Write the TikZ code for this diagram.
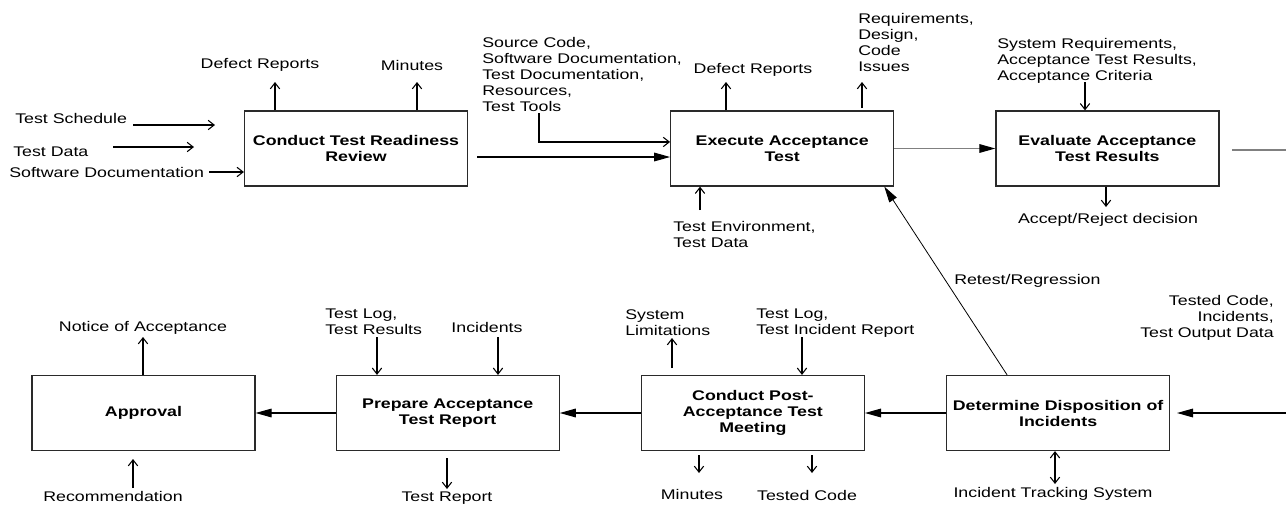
\documentclass[tikz,border=0pt]{standalone}
\usepackage{fontspec}
\setmainfont{Liberation Sans}[FakeStretch=1.27]
\usepackage{xcolor}
\usepackage{tikz}
\usetikzlibrary{arrows.meta,positioning}
\definecolor{Ink}{HTML}{000000}
\definecolor{Edge}{HTML}{2A2A2A}
\definecolor{Grey}{HTML}{808080}
\tikzset{
  proc/.style={draw=Edge,line width=0.9pt,minimum width=167.25pt,minimum height=56.25pt,inner sep=0pt,align=center,font=\fontsize{10.5}{12}\selectfont\bfseries},
  lbl/.style={inner sep=0pt,align=left,font=\fontsize{10.5}{12}\selectfont},
  flow/.style={-{Triangle[length=12pt,width=6.5pt,color=Ink]},line width=0.8pt,color=Ink},
  io/.style={-{Straight Barb[length=4.5pt,width=7pt]},line width=0.8pt,color=Ink},
  iotwo/.style={{Straight Barb[length=4.5pt,width=7pt]}-{Straight Barb[length=4.5pt,width=7pt]},line width=0.8pt,color=Ink}
}

\begin{document}
\begin{tikzpicture}[x=0.75pt,y=-0.75pt]
  \useasboundingbox (0,0) rectangle (1286,504);
  \node[proc] (ctrr) at (356,148.5) {Conduct Test Readiness\\Review};
  \node[proc,right=151.5pt of ctrr] (eat) {Execute Acceptance\\Test};
  \node[proc,right=75.75pt of eat] (eatr) {Evaluate Acceptance\\Test Results};
  \node[proc] (appr) at (143.5,413) {Approval};
  \node[proc,right=60pt of appr] (patr) {Prepare Acceptance\\Test Report};
  \node[proc,right=60.75pt of patr] (cpatm) {Conduct Post-\\Acceptance Test\\Meeting};
  \node[proc,right=60.75pt of cpatm] (ddi) {Determine Disposition of\\Incidents};

  \node[lbl,anchor=west] (tsched) at (15,118) {Test Schedule};
  \node[lbl,anchor=west] (tdata) at (13,152) {Test Data};
  \node[lbl,anchor=west] (swdoc) at (9,172) {Software Documentation};
  \node[lbl] (defA) at (260,65) {Defect Reports};
  \node[lbl] (minA) at (412,65) {Minutes};
  \node[lbl,anchor=north west] (srcs) at (482,37) {Source Code,\\Software Documentation,\\Test Documentation,\\Resources,\\Test Tools};
  \node[lbl] (defB) at (753,70) {Defect Reports};
  \node[lbl,anchor=north west] (reqs) at (858,13) {Requirements,\\Design,\\Code\\Issues};
  \node[lbl,anchor=north west] (tenv) at (673,221) {Test Environment,\\Test Data};
  \node[lbl,anchor=north west] (sysreq) at (997,38) {System Requirements,\\Acceptance Test Results,\\Acceptance Criteria};
  \node[lbl] (decis) at (1108,220) {Accept/Reject decision};
  \node[lbl,anchor=west] (retest) at (954,281) {Retest/Regression};

  \node[lbl] (notice) at (143,328) {Notice of Acceptance};
  \node[lbl] (recom) at (113,496) {Recommendation};
  \node[lbl,anchor=north west] (tlogA) at (325,309) {Test Log,\\Test Results};
  \node[lbl] (incA) at (487,327) {Incidents};
  \node[lbl] (trep) at (447,498) {Test Report};
  \node[lbl,anchor=north west] (syslim) at (625,309) {System\\Limitations};
  \node[lbl,anchor=north west] (tlogB) at (756,309) {Test Log,\\Test Incident Report};
  \node[lbl] (minB) at (692,494) {Minutes};
  \node[lbl] (tcode) at (807,495) {Tested Code};
  \node[lbl] (itsys) at (1053,494) {Incident Tracking System};
  \node[lbl,anchor=north east,align=right] (tout) at (1274,295) {Tested Code,\\Incidents,\\Test Output Data};

  \coordinate (tsA) at (133,125); \coordinate (tsB) at (215,125);
  \coordinate (tdA) at (113,147); \coordinate (tdB) at (194,147);
  \coordinate (dr1) at (275,82);  \coordinate (mn1) at (417,82);
  \coordinate (rvw) at (477,157); \coordinate (src) at (539,113);
  \coordinate (dr2) at (726,82);
  \coordinate (rq0) at (862,108); \coordinate (rq1) at (862,82);
  \coordinate (te1) at (700,210);
  \coordinate (sr1) at (1085,82); \coordinate (ar1) at (1106,207);
  \coordinate (exitA) at (1232,150); \coordinate (exitB) at (1286,150);
  \coordinate (na1) at (143,337);
  \coordinate (rc0) at (133,488); \coordinate (rc1) at (133,459);
  \coordinate (tl1) at (377,337); \coordinate (in1) at (498,337);
  \coordinate (tr0) at (447,458); \coordinate (tr1) at (447,489);
  \coordinate (sl0) at (672,368); \coordinate (sl1) at (672,338);
  \coordinate (tl2) at (802,337);
  \coordinate (mn2a) at (699,455); \coordinate (mn2b) at (699,473);
  \coordinate (tc0) at (812,455); \coordinate (tc1) at (812,473);
  \coordinate (it1) at (1055,484);
  \coordinate (entry) at (1286,413); \coordinate (entryTip) at (1177,413);

  \draw[io] (tsA) -- (tsB);
  \draw[io] (tdA) -- (tdB);
  \draw[io] ([xshift=3.75pt]swdoc.east) -- (ctrr.west |- swdoc.east);
  \draw[io] (ctrr.north -| dr1) -- (dr1);
  \draw[io] (ctrr.north -| mn1) -- (mn1);
  \draw[flow] (rvw) -- (eat.west |- rvw);
  \draw[io] (src) |- ([yshift=4.9pt]eat.west);
  \draw[io] (eat.north -| dr2) -- (dr2);
  \draw[io] (rq0) -- (rq1);
  \draw[io] (te1) -- (eat.south -| te1);
  \draw[flow,color=Grey] (eat.east) -- (eatr.west);
  \draw[io] (sr1) -- (eatr.north -| sr1);
  \draw[io] (eatr.south -| ar1) -- (ar1);
  \draw[line width=0.8pt,color=Grey] (exitA) -- (exitB);
  \draw[flow,line width=0.6pt] ([xshift=-38.25pt]ddi.north) -- ([xshift=-7.5pt]eat.south east);

  \draw[io] (appr.north -| na1) -- (na1);
  \draw[io] (rc0) -- (rc1);
  \draw[flow] (patr.west) -- (appr.east);
  \draw[io] (tl1) -- (patr.north -| tl1);
  \draw[io] (in1) -- (patr.north -| in1);
  \draw[io] (tr0) -- (tr1);
  \draw[flow] (cpatm.west) -- (patr.east);
  \draw[io] (sl0) -- (sl1);
  \draw[io] (tl2) -- (cpatm.north -| tl2);
  \draw[io] (mn2a) -- (mn2b);
  \draw[io] (tc0) -- (tc1);
  \draw[flow] (ddi.west) -- (cpatm.east);
  \draw[iotwo] (ddi.south -| it1) -- (it1);
  \draw[flow] (entry) -- (entryTip);
\end{tikzpicture}
\end{document}
